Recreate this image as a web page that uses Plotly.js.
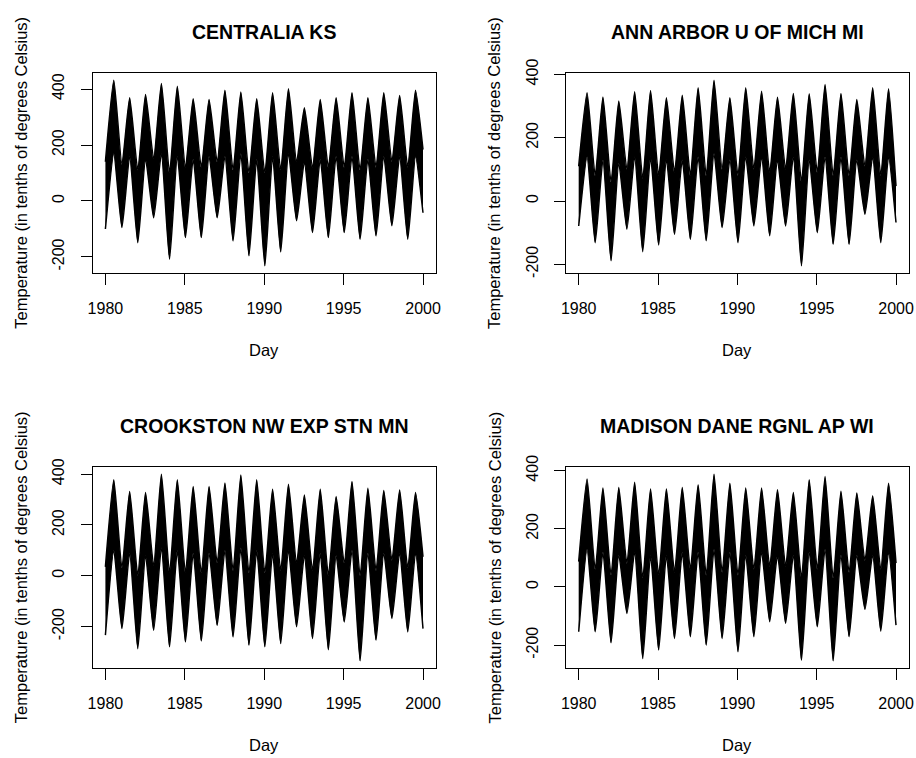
<!DOCTYPE html>
<html>
<head>
<meta charset="utf-8">
<script src="https://cdn.plot.ly/plotly-3.0.1.min.js"></script>
<style>
  html, body { margin: 0; padding: 0; background: #ffffff; }
  #chart { width: 916px; height: 758px; }
</style>
</head>
<body>
<div id="chart"></div>
<script>
// ---------------- data ----------------
const stationNames = [
  "CENTRALIA KS",
  "ANN ARBOR U OF MICH MI",
  "CROOKSTON NW EXP STN MN",
  "MADISON DANE RGNL AP WI"
];

// winter dates: first day of the series, mid-January 1981..1999, last day of the series
const winterDates = [
  "1980-01-01", "1981-01-15", "1982-01-15", "1983-01-15", "1984-01-15",
  "1985-01-15", "1986-01-15", "1987-01-15", "1988-01-15", "1989-01-15",
  "1990-01-15", "1991-01-15", "1992-01-15", "1993-01-15", "1994-01-15",
  "1995-01-15", "1996-01-15", "1997-01-15", "1998-01-15", "1999-01-15",
  "1999-12-31"
];
// summer dates: mid-July 1980..1999
const summerDates = [
  "1980-07-12", "1981-07-12", "1982-07-12", "1983-07-12", "1984-07-12",
  "1985-07-12", "1986-07-12", "1987-07-12", "1988-07-12", "1989-07-12",
  "1990-07-12", "1991-07-12", "1992-07-12", "1993-07-12", "1994-07-12",
  "1995-07-12", "1996-07-12", "1997-07-12", "1998-07-12", "1999-07-12"
];

// CENTRALIA KS (tenths of degrees Celsius)
const centraliaWinterLow  = [-100, -95, -149, -60, -208, -131, -131, -60, -143, -196, -232, -182, -71, -113, -131, -113, -137, -125, -89, -137, -42];
const centraliaWinterHigh = [140, 130, 110, 150, 100, 120, 120, 140, 110, 100, 100, 110, 140, 120, 120, 120, 110, 120, 140, 120, 184];
const centraliaSummerHigh = [432, 369, 381, 420, 410, 365, 363, 396, 390, 365, 387, 401, 333, 363, 369, 387, 369, 387, 377, 396];
const centraliaSummerLow  = [170, 160, 150, 170, 160, 150, 160, 160, 170, 150, 160, 170, 140, 150, 160, 160, 150, 160, 160, 160];

// ANN ARBOR U OF MICH MI
const annArborWinterLow  = [-79, -132, -189, -89, -160, -139, -105, -121, -126, -84, -132, -79, -110, -79, -205, -100, -137, -137, -42, -132, -68];
const annArborWinterHigh = [110, 80, 60, 100, 70, 80, 90, 80, 80, 100, 80, 100, 90, 100, 60, 90, 80, 80, 110, 80, 47];
const annArborSummerHigh = [342, 329, 316, 345, 349, 326, 334, 358, 382, 326, 358, 347, 328, 340, 339, 368, 340, 321, 358, 355];
const annArborSummerLow  = [140, 130, 120, 140, 140, 130, 130, 140, 150, 130, 140, 140, 130, 140, 130, 140, 140, 130, 140, 140];

// CROOKSTON NW EXP STN MN
const crookstonWinterLow  = [-234, -208, -287, -215, -280, -261, -257, -195, -241, -274, -280, -267, -201, -247, -291, -182, -335, -254, -168, -221, -208];
const crookstonWinterHigh = [35, 30, 0, 40, 10, 10, 10, 50, 20, 10, 10, 20, 50, 20, 0, 50, 0, 20, 60, 30, 75];
const crookstonSummerHigh = [378, 332, 328, 400, 378, 351, 351, 365, 397, 378, 341, 360, 318, 341, 312, 371, 345, 336, 338, 328];
const crookstonSummerLow  = [100, 90, 80, 110, 100, 90, 90, 100, 110, 100, 90, 100, 80, 90, 80, 100, 90, 90, 90, 90];

// MADISON DANE RGNL AP WI
const madisonWinterLow  = [-154, -154, -192, -91, -246, -217, -177, -171, -200, -177, -223, -171, -120, -125, -252, -137, -254, -171, -77, -152, -131];
const madisonWinterHigh = [87, 60, 40, 80, 30, 40, 50, 60, 40, 50, 40, 60, 70, 70, 30, 60, 30, 50, 90, 60, 82];
const madisonSummerHigh = [371, 340, 342, 360, 337, 337, 342, 352, 388, 357, 340, 340, 334, 325, 369, 380, 329, 323, 314, 357];
const madisonSummerLow  = [130, 120, 110, 120, 110, 110, 120, 120, 130, 120, 110, 120, 110, 110, 120, 130, 110, 110, 110, 120];

const xTickLabels = ["1980", "1985", "1990", "1995", "2000"];
const yTickValues = [-200, 0, 200, 400];
const xAxisLabel = "Day";
const yAxisLabel = "Temperature (in tenths of degrees Celsius)";

// ---------------- build ----------------
const stations = [
  [centraliaWinterLow, centraliaWinterHigh, centraliaSummerHigh, centraliaSummerLow],
  [annArborWinterLow, annArborWinterHigh, annArborSummerHigh, annArborSummerLow],
  [crookstonWinterLow, crookstonWinterHigh, crookstonSummerHigh, crookstonSummerLow],
  [madisonWinterLow, madisonWinterHigh, madisonSummerHigh, madisonSummerLow]
];

const W = 916, H = 758;
// plot boxes in pixels [left, right, top, bottom]
const boxes = [
  [92.7, 435.7, 72.7, 273.3],
  [566.0, 908.7, 72.7, 273.3],
  [92.7, 435.7, 466.7, 668.3],
  [566.0, 908.7, 466.7, 668.3]
];

const FONT = "Liberation Sans, Arial, Helvetica, sans-serif";

function interleave(w, s) {
  const out = [];
  for (let i = 0; i < s.length; i++) { out.push(w[i]); out.push(s[i]); }
  out.push(w[w.length - 1]);
  return out;
}

const xDates = interleave(winterDates, summerDates);
const tMin = new Date(winterDates[0] + "T00:00:00Z").getTime();
const tMax = new Date(winterDates[winterDates.length - 1] + "T00:00:00Z").getTime();
const tPad = 0.04 * (tMax - tMin);
const xRange = [tMin - tPad, tMax + tPad];
const xTickVals = xTickLabels.map(y => y + "-01-01");

const traces = [];
const layout = {
  width: W, height: H,
  margin: {l: 0, r: 0, t: 0, b: 0},
  paper_bgcolor: "#ffffff",
  plot_bgcolor: "#ffffff",
  showlegend: false,
  font: {family: FONT, color: "#000000", size: 16},
  annotations: []
};

stations.forEach((st, i) => {
  const [wLo, wHi, sHi, sLo] = st;
  const lower = interleave(wLo, sLo);
  const upper = interleave(wHi, sHi);
  const n = i + 1;
  const xa = "x" + (n === 1 ? "" : n), ya = "y" + (n === 1 ? "" : n);
  traces.push({
    type: "scatter", mode: "lines", x: xDates, y: lower,
    xaxis: xa, yaxis: ya, line: {color: "#000000", width: 1.5, shape: "spline", smoothing: 0.5},
    hoverinfo: "skip"
  });
  traces.push({
    type: "scatter", mode: "lines", x: xDates, y: upper,
    xaxis: xa, yaxis: ya, line: {color: "#000000", width: 1.5, shape: "spline", smoothing: 0.5},
    fill: "tonexty", fillcolor: "#000000",
    hoverinfo: "skip"
  });

  const all = lower.concat(upper);
  const yMin = Math.min(...all), yMax = Math.max(...all);
  const yPad = 0.04 * (yMax - yMin);

  const [l, r, t, b] = boxes[i];
  const axCommon = {
    showgrid: false, zeroline: false,
    showline: true, mirror: true, linecolor: "#000000", linewidth: 1,
    ticks: "outside", ticklen: 11, tickwidth: 1, tickcolor: "#000000",
    tickfont: {family: FONT, size: 16, color: "#000000"}
  };
  layout["xaxis" + (n === 1 ? "" : n)] = Object.assign({}, axCommon, {
    type: "date",
    domain: [l / W, r / W],
    anchor: ya,
    range: xRange,
    tickmode: "array", tickvals: xTickVals, ticktext: xTickLabels,
    ticklabelstandoff: 9
  });
  layout["yaxis" + (n === 1 ? "" : n)] = Object.assign({}, axCommon, {
    domain: [1 - b / H, 1 - t / H],
    anchor: xa,
    range: [yMin - yPad, yMax + yPad],
    tickmode: "array", tickvals: yTickValues, ticktext: yTickValues.map(String),
    tickangle: -90,
    ticklabelstandoff: 10
  });

  const cx = (l + r) / 2 / W;
  const cy = 1 - (t + b) / 2 / H;
  layout.annotations.push({
    text: "<b>" + stationNames[i] + "</b>",
    xref: "paper", yref: "paper", x: cx, y: 1 - (t - 40.7) / H,
    xanchor: "center", yanchor: "middle", showarrow: false,
    font: {family: FONT, size: 19.5, color: "#000000"}
  });
  layout.annotations.push({
    text: xAxisLabel,
    xref: "paper", yref: "paper", x: cx, y: 1 - (b + 76.7) / H,
    xanchor: "center", yanchor: "middle", showarrow: false,
    font: {family: FONT, size: 16.5, color: "#000000"}
  });
  layout.annotations.push({
    text: yAxisLabel,
    xref: "paper", yref: "paper", x: (l - 72) / W, y: cy,
    xanchor: "center", yanchor: "middle", showarrow: false, textangle: -90,
    font: {family: FONT, size: 16.5, color: "#000000"}
  });
});

Plotly.newPlot("chart", traces, layout, {displayModeBar: false, staticPlot: true});
</script>
</body>
</html>
